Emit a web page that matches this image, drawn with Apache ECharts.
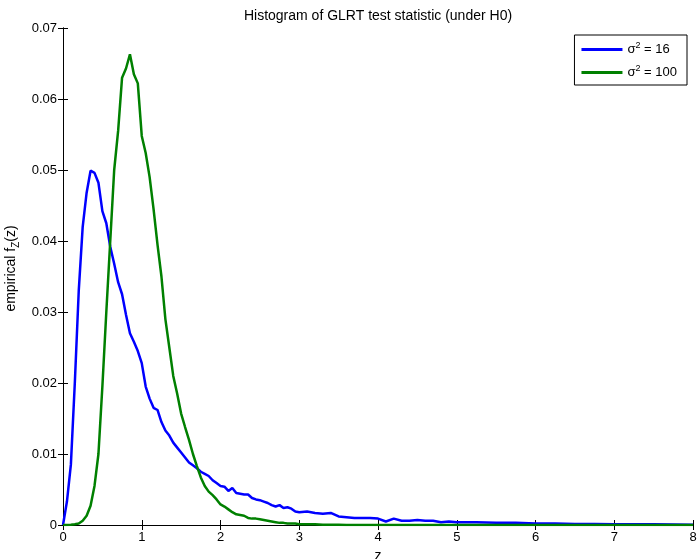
<!DOCTYPE html>
<html>
<head>
<meta charset="utf-8">
<script src="https://cdn.jsdelivr.net/npm/echarts@6/dist/echarts.min.js"></script>
<style>
  html, body { margin: 0; padding: 0; background: #fff; }
  #chart { width: 698px; height: 559px; }
</style>
</head>
<body>
<div id="chart"></div>
<script>
// bin centres (fine steps where the curves move, coarser in the flat tail)
var zBins = [
  0.00, 0.05, 0.10, 0.15, 0.20, 0.25, 0.30, 0.35, 0.40, 0.45,
  0.50, 0.55, 0.60, 0.65, 0.70, 0.75, 0.80, 0.85, 0.90, 0.95,
  1.00, 1.05, 1.10, 1.15, 1.20, 1.25, 1.30, 1.35, 1.40, 1.45,
  1.50, 1.55, 1.60, 1.65, 1.70, 1.75, 1.80, 1.85, 1.90, 1.95,
  2.00, 2.05, 2.10, 2.15, 2.20, 2.25, 2.30, 2.35, 2.40, 2.45,
  2.50, 2.55, 2.60, 2.65, 2.70, 2.75, 2.80, 2.85, 2.90, 2.95,
  3.00, 3.10, 3.20, 3.30, 3.40, 3.50, 3.60, 3.70, 3.80, 3.90,
  4.00, 4.10, 4.20, 4.30, 4.40, 4.50, 4.60, 4.70, 4.80, 4.90,
  5.00, 5.25, 5.50, 5.75, 6.00, 6.25, 6.50, 6.75, 7.00, 7.25,
  7.50, 7.75, 8.00
];

// sigma^2 = 16
var fz16 = [
  0.0000, 0.0033, 0.0085, 0.0200, 0.0330, 0.0420, 0.0468, 0.0499, 0.0496, 0.0482,
  0.0442, 0.0425, 0.0392, 0.0368, 0.0342, 0.0325, 0.0296, 0.0270, 0.0258, 0.0245,
  0.0228, 0.0195, 0.0178, 0.0165, 0.0162, 0.0145, 0.0133, 0.0126, 0.0116, 0.0109,
  0.0102, 0.0095, 0.0088, 0.0084, 0.0080, 0.0075, 0.0072, 0.0069, 0.0063, 0.0059,
  0.0055, 0.0054, 0.0048, 0.0052, 0.0045, 0.0044, 0.0043, 0.0043, 0.0038, 0.0036,
  0.0035, 0.0033, 0.0031, 0.0028, 0.0026, 0.0028, 0.0024, 0.0025, 0.0023, 0.0019,
  0.0018, 0.0019, 0.0017, 0.0016, 0.0017, 0.0012, 0.0011, 0.0010, 0.0010, 0.0010,
  0.0009, 0.0005, 0.0009, 0.0006, 0.0006, 0.0007, 0.0006, 0.0006, 0.0004, 0.0005,
  0.0004, 0.0004, 0.0003, 0.0003, 0.0002, 0.0002, 0.00015, 0.00015, 0.00012, 0.0001,
  0.0001, 0.00008, 0.00005
];

// sigma^2 = 100
var fz100 = [
  0.0000, 0.0000, 0.00002, 0.0001, 0.0002, 0.0006, 0.0013, 0.0027, 0.0055, 0.0100,
  0.0195, 0.0300, 0.0400, 0.0500, 0.0555, 0.0630, 0.0643, 0.0663, 0.0635, 0.0622,
  0.0548, 0.0524, 0.0490, 0.0445, 0.0395, 0.0350, 0.0290, 0.0250, 0.0210, 0.0185,
  0.0157, 0.0138, 0.0120, 0.0100, 0.0083, 0.0067, 0.0055, 0.0047, 0.0042, 0.0036,
  0.0029, 0.0026, 0.0022, 0.0018, 0.0015, 0.0014, 0.0013, 0.0010, 0.0009, 0.0009,
  0.0008, 0.0007, 0.0006, 0.0005, 0.0004, 0.0003, 0.0003, 0.0002, 0.0002, 0.0002,
  0.0001, 0.0001, 0.0001, 0.00005, 0.00005, 0.00003, 0, 0, 0, 0,
  0, 0, 0, 0, 0, 0, 0, 0, 0, 0,
  0, 0, 0, 0, 0, 0, 0, 0, 0, 0,
  0, 0, 0
];

var seriesNames = ['s16', 's100'];
var legendLabels = { s16: '{n|σ}{s|2}{n| = 16}', s100: '{n|σ}{s|2}{n| = 100}' };
var xTicks = [0, 8, 1];      // min, max, interval
var yTicks = [0, 0.07, 0.01];

var chart = echarts.init(document.getElementById('chart'));

var font = 'Liberation Sans, Arial, Helvetica, sans-serif';
var black = '#000';

function pairs(ys) {
  return zBins.map(function (z, i) { return [z, ys[i]]; });
}

var boxAxis = {
  axisLine: { show: true, lineStyle: { color: black, width: 1 } },
  axisTick: { show: true, inside: true, length: 5, lineStyle: { color: black } },
  splitLine: { show: false }
};

var option = {
  animation: false,
  backgroundColor: '#fff',
  textStyle: { fontFamily: font },
  title: {
    text: 'Histogram of GLRT test statistic (under H0)',
    left: 373, top: 4, textAlign: 'center',
    textStyle: { fontSize: 14, fontWeight: 'normal', color: black, fontFamily: font }
  },
  grid: { left: 63, right: 5, top: 28, bottom: 34, outerBoundsMode: 'none', containLabel: false },
  legend: {
    orient: 'vertical',
    right: 11, top: 35,
    icon: 'rect',
    itemWidth: 41, itemHeight: 3, itemGap: 8,
    padding: [6, 10, 6, 7],
    borderColor: black, borderWidth: 1, backgroundColor: '#fff',
    data: seriesNames,
    formatter: function (name) { return legendLabels[name]; },
    textStyle: {
      fontFamily: font,
      rich: {
        n: { fontSize: 13, color: black, lineHeight: 17, fontFamily: font },
        s: { fontSize: 9, color: black, lineHeight: 10, verticalAlign: 'top', fontFamily: font }
      }
    }
  },
  xAxis: [
    Object.assign({}, boxAxis, {
      type: 'value', position: 'bottom',
      min: xTicks[0], max: xTicks[1], interval: xTicks[2],
      name: 'z', nameLocation: 'middle', nameGap: 17,
      nameTextStyle: { fontSize: 14, color: black, fontFamily: font },
      axisLabel: { fontSize: 13, color: black, margin: 6, fontFamily: font }
    }),
    Object.assign({}, boxAxis, {
      type: 'value', position: 'top',
      min: xTicks[0], max: xTicks[1], interval: xTicks[2],
      axisLabel: { show: false }
    })
  ],
  yAxis: [
    Object.assign({}, boxAxis, {
      type: 'value', position: 'left',
      min: yTicks[0], max: yTicks[1], interval: yTicks[2],
      name: '{n|empirical f}{sub|Z}{n|(z)}', nameLocation: 'middle', nameGap: 41, nameRotate: 90,
      nameTextStyle: {
        color: black, fontFamily: font,
        padding: [0, 0, 0, 16],
        rich: {
          n: { fontSize: 14, lineHeight: 20, color: black, fontFamily: font },
          sub: { fontSize: 10, lineHeight: 11, verticalAlign: 'bottom', color: black, fontFamily: font }
        }
      },
      axisLabel: {
        fontSize: 13, color: black, margin: 6, fontFamily: font,
        formatter: function (v) { return v === 0 ? '0' : v.toFixed(2); }
      }
    }),
    Object.assign({}, boxAxis, {
      type: 'value', position: 'right',
      min: yTicks[0], max: yTicks[1], interval: yTicks[2],
      axisLabel: { show: false }
    })
  ],
  series: [
    {
      name: seriesNames[0], type: 'line', xAxisIndex: 0, yAxisIndex: 0,
      data: pairs(fz16), symbol: 'none', smooth: false,
      lineStyle: { color: '#0000ff', width: 2.5 }, itemStyle: { color: '#0000ff' }
    },
    {
      name: seriesNames[1], type: 'line', xAxisIndex: 0, yAxisIndex: 0,
      data: pairs(fz100), symbol: 'none', smooth: false,
      lineStyle: { color: '#008000', width: 2.5 }, itemStyle: { color: '#008000' }
    }
  ]
};

chart.setOption(option);
</script>
</body>
</html>
